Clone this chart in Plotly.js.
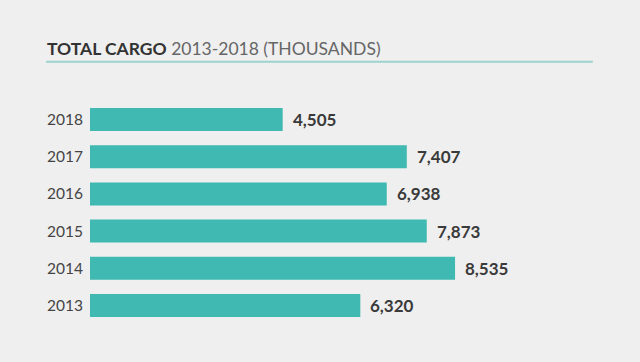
<!DOCTYPE html>
<html>
<head>
<meta charset="utf-8">
<script src="https://cdn.plot.ly/plotly-3.0.1.min.js"></script>
<style>html,body{margin:0;padding:0;background:#efefef;}#chart{width:640px;height:362px;}</style>
</head>
<body>
<div id="chart"></div>
<script>
const years = ["2013", "2014", "2015", "2016", "2017", "2018"];
const cargo = [6320, 8535, 7873, 6938, 7407, 4505];
const titleBold = "TOTAL CARGO";
const titleRest = "2013-2018 (THOUSANDS)";

const fmt = v => v.toLocaleString("en-US");

const trace = {
  type: "bar",
  orientation: "h",
  x: cargo,
  y: years,
  marker: {color: "#3fb9b1"},
  width: 0.62,
  hoverinfo: "skip"
};

const annotations = years.map((y, i) => ({
  x: cargo[i], y: i, xref: "x", yref: "y",
  text: "<b>" + fmt(cargo[i]) + "</b>",
  showarrow: false, xanchor: "left", xshift: 8,
  font: {family: "Lato, sans-serif", size: 17, color: "#3a3a3a"}
}));
annotations.push({
  xref: "paper", yref: "paper", x: -0.088, y: 1.18, xanchor: "left", yanchor: "bottom",
  showarrow: false,
  text: "<b>" + titleBold + "</b> <span style='color:#666'>" + titleRest + "</span>",
  font: {family: "Lato, sans-serif", size: 17.5, color: "#333"}
});

const layout = {
  width: 640, height: 362,
  paper_bgcolor: "#efefef", plot_bgcolor: "#efefef",
  margin: {l: 90, r: 40, t: 101, b: 38},
  showlegend: false,
  xaxis: {range: [0, 11924], visible: false, fixedrange: true},
  yaxis: {
    type: "category", categoryorder: "array", categoryarray: years,
    range: [-0.5, 5.5], autorange: false,
    showgrid: false, zeroline: false, showline: false, ticks: "",
    ticklabelstandoff: 6,
    tickfont: {family: "Lato, sans-serif", size: 15.5, color: "#444"}
  },
  annotations: annotations,
  shapes: [{
    type: "line", xref: "paper", yref: "paper",
    x0: -0.086, x1: 0.986, y0: 1.176, y1: 1.176,
    line: {color: "#9dd3cf", width: 2}
  }]
};

Plotly.newPlot("chart", [trace], layout, {displayModeBar: false, staticPlot: true});
</script>
</body>
</html>
